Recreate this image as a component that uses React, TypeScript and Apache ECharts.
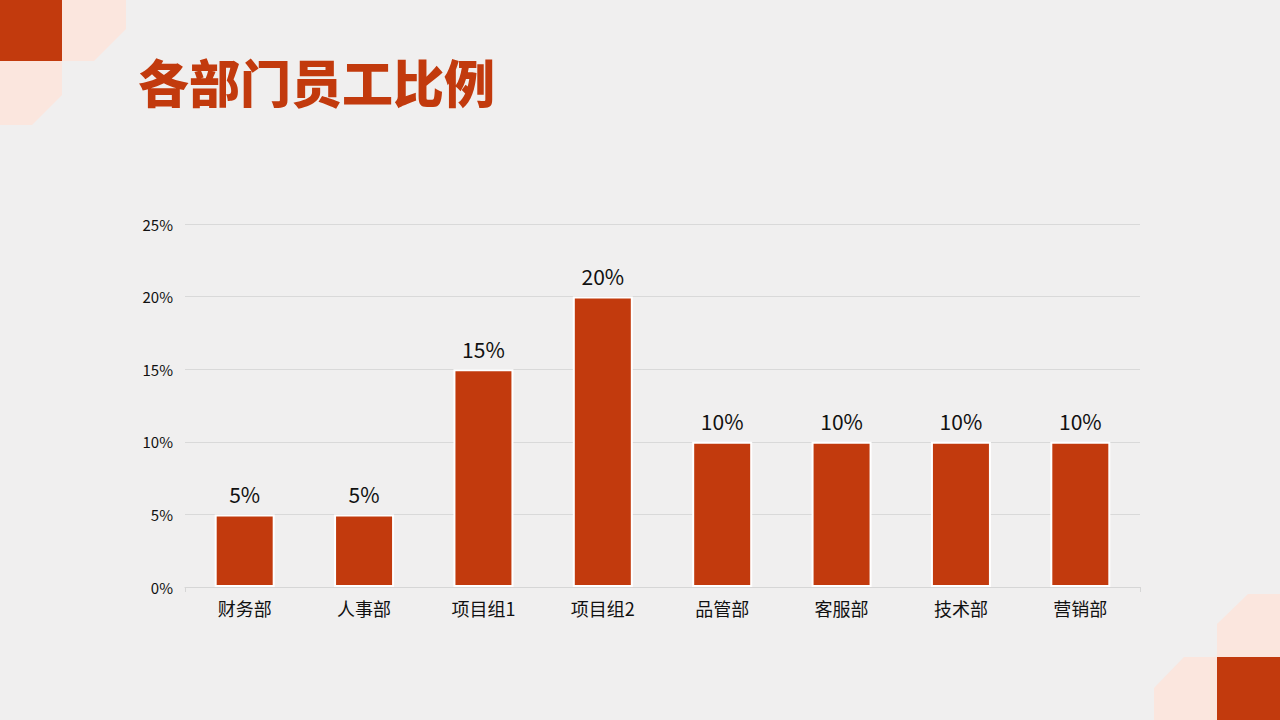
import React, { useEffect, useRef } from "react";
import * as echarts from "echarts";

const categories = ["财务部", "人事部", "项目组1", "项目组2", "品管部", "客服部", "技术部", "营销部"];
const values = [5, 5, 15, 20, 10, 10, 10, 10];
const titleText = "各部门员工比例";

const RED = "#c23a0d";
const PINK = "#fbe6de";

export default function App() {
  const ref = useRef<HTMLDivElement>(null);
  useEffect(() => {
    const chart = echarts.init(ref.current!, null, { renderer: "svg" });
    chart.setOption({
      animation: false,
      backgroundColor: "#f0efef",
      textStyle: { fontFamily: "'Noto Sans CJK SC', 'Noto Sans', sans-serif" },
      graphic: [
        { type: "polygon", shape: { points: [[62, 0], [126, 0], [126, 29], [94, 61], [62, 61]] }, style: { fill: PINK } },
        { type: "polygon", shape: { points: [[0, 61], [62, 61], [62, 95], [32, 125], [0, 125]] }, style: { fill: PINK } },
        { type: "rect", shape: { x: 0, y: 0, width: 62, height: 61 }, style: { fill: RED } },
        { type: "polygon", shape: { points: [[1248, 594], [1280, 594], [1280, 657], [1217, 657], [1217, 624]] }, style: { fill: PINK } },
        { type: "polygon", shape: { points: [[1184, 657], [1217, 657], [1217, 720], [1154, 720], [1154, 688]] }, style: { fill: PINK } },
        { type: "rect", shape: { x: 1217, y: 657, width: 63, height: 63 }, style: { fill: RED } },
        {
          type: "text",
          left: 138,
          top: 55,
          style: {
            text: titleText,
            fill: RED,
            font: "900 51px 'Noto Sans CJK SC', sans-serif",
          },
        },
      ],
      grid: { left: 185, right: 140, top: 224, bottom: 133 },
      xAxis: {
        type: "category",
        data: categories,
        axisLine: { lineStyle: { color: "#d6d6d6", width: 1 } },
        axisTick: {
          show: true,
          length: 5,
          lineStyle: { color: "#d6d6d6" },
          interval: (i: number) => i === 0 || i === categories.length,
        },
        axisLabel: { color: "#111", fontSize: 18, margin: 12 },
      },
      yAxis: {
        type: "value",
        min: 0,
        max: 25,
        interval: 5,
        axisLine: { show: false },
        axisTick: { show: false },
        axisLabel: { color: "#111", fontSize: 15, margin: 12, formatter: "{value}%" },
        splitLine: { lineStyle: { color: "#d9d9d9", width: 1 } },
      },
      series: [
        {
          type: "bar",
          data: values,
          barWidth: 60,
          itemStyle: { color: RED, borderColor: "#ffffff", borderWidth: 2 },
          label: {
            show: true,
            position: "top",
            distance: 10,
            formatter: "{c}%",
            color: "#111",
            fontSize: 21,
          },
        },
      ],
    });
    return () => chart.dispose();
  }, []);
  return <div ref={ref} style={{ width: 1280, height: 720, position: "fixed", left: 0, top: 0 }} />;
}
